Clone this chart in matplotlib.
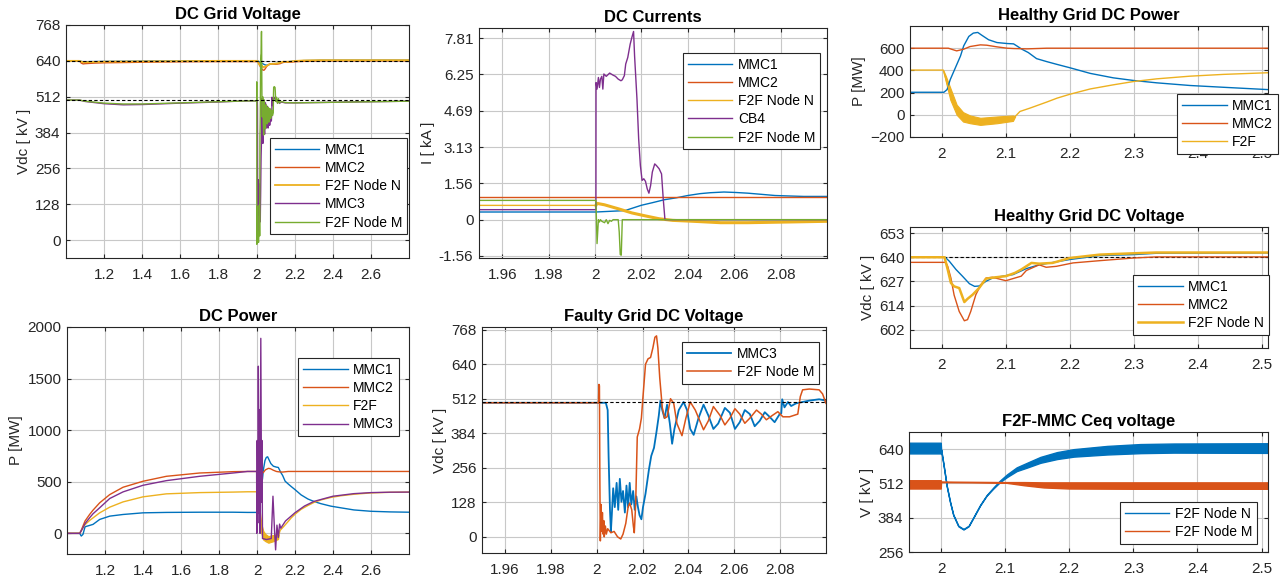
import matplotlib
matplotlib.use("Agg")
import matplotlib.pyplot as plt
import numpy as np
from matplotlib.ticker import FuncFormatter


plt.rcParams["font.family"] = ["Liberation Sans", "DejaVu Sans"]

LARGEUR, HAUTEUR = 1288, 586

BLEU = "#0072BD"
ORANGE = "#D95319"
JAUNE = "#EDB120"
VIOLET = "#7E2F8E"
VERT = "#77AC30"

# ---------------------------------------------------------------- puissances (MW)
# demarrage 1.0 -> 1.95 s
t_p_dem = [1.0, 1.067, 1.075, 1.084, 1.095, 1.119, 1.137, 1.172, 1.225, 1.295, 1.4, 1.523, 1.698, 1.874, 1.95]
p_mmc1_dem = [0, 0, -26, -10, 64, 77, 87, 135, 167, 183, 199, 203, 205, 205, 203]
p_mmc2_dem = [0, 0, 30, 71, 120, 183, 225, 296, 376, 447, 505, 553, 585, 598, 600]
p_mmc3_dem = [0, 0, 25, 55, 95, 151, 190, 248, 338, 402, 466, 511, 553, 585, 600]
p_f2f_dem = [0, 0, 25, 55, 85, 125, 150, 199, 254, 305, 354, 383, 395, 400, 403]

# defaut 1.95 -> 2.51 s
t_p_mmc1 = [1.95, 2.003, 2.008, 2.013, 2.021, 2.029, 2.034, 2.042, 2.049, 2.056, 2.062, 2.073, 2.086,
            2.102, 2.112, 2.117, 2.125, 2.135, 2.148, 2.164, 2.18, 2.2, 2.232, 2.268, 2.3, 2.336, 2.388,
            2.44, 2.51]
p_mmc1 = [203, 203, 227, 318, 424, 530, 621, 706, 736, 742, 718, 676, 651, 642, 639, 621, 591, 561,
          506, 479, 454, 424, 373, 333, 309, 288, 264, 248, 227]
t_p_mmc2 = [1.95, 2.01, 2.018, 2.023, 2.034, 2.044, 2.06, 2.07, 2.086, 2.102, 2.112, 2.133, 2.164, 2.51]
p_mmc2 = [600, 600, 585, 576, 591, 615, 630, 627, 612, 600, 597, 594, 600, 600]
t_p_f2f = [1.95, 2.002, 2.006, 2.013, 2.023, 2.033, 2.044, 2.06, 2.086, 2.111, 2.1145, 2.122, 2.138,
           2.164, 2.18, 2.2, 2.232, 2.268, 2.3, 2.336, 2.388, 2.44, 2.51]
p_f2f = [403, 403, 325, 190, 45, -18, -41, -59, -45, -30, -15, 30, 61, 115, 150, 185, 233, 270, 300,
         324, 348, 364, 379]
# bande d'ondulation F2F
t_bande_f2f = [2.002, 2.006, 2.013, 2.023, 2.033, 2.044, 2.06, 2.086, 2.111, 2.1145]
bande_f2f_haut = [403, 350, 243, 91, 24, -6, -27, -15, -6, -15]
bande_f2f_bas = [403, 300, 136, 0, -61, -76, -91, -76, -55, -15]
t_p_mmc3 = [1.95, 1.998, 1.999, 2.001, 2.004, 2.007, 2.010, 2.013, 2.016, 2.020, 2.024, 2.026, 2.029,
            2.05, 2.075, 2.084, 2.092, 2.098, 2.105, 2.112, 2.119, 2.125, 2.15, 2.2, 2.25, 2.3, 2.4, 2.51]
p_mmc3 = [600, 600, 0, 900, 100, 1620, 200, 1200, 0, 1890, 300, 900, -50, -60, -50, 360, 40, -160,
          80, -40, 90, 50, 120, 200, 265, 310, 360, 385]

# fin 2.51 -> 2.8 s
t_p_fin = [2.6, 2.7, 2.8]
p_mmc1_fin = [214, 208, 205]
p_mmc2_fin = [600, 600, 600]
p_mmc3_fin = [395, 399, 400]
p_f2f_fin = [392, 398, 400]

# ------------------------------------------------------ tensions reseau sain (kV)
t_v_dem = [1.0, 1.07, 1.08, 1.09, 1.1, 1.15, 1.2, 1.3, 1.4, 1.5, 1.6, 1.7, 1.8, 1.9]
v_mmc1_dem = [640, 640, 638, 637, 637, 637.5, 638, 638.5, 639, 639.5, 640, 640, 640, 640]
v_mmc2_dem = [640, 640, 632, 629, 630, 632, 633, 634, 635, 636, 636.5, 637, 637.3, 637.3]
v_f2fn_dem = [640, 640, 637, 635, 635, 636, 637, 637.5, 638, 638.5, 639, 639.5, 640, 640]

t_v_mmc1 = [1.95, 2.005, 2.0115, 2.022, 2.032, 2.043, 2.051, 2.058, 2.069, 2.079, 2.1, 2.111, 2.132,
            2.152, 2.2, 2.247, 2.3, 2.335, 2.51]
v_mmc1 = [640, 640, 637.9, 633.5, 630, 626, 624.6, 624.8, 627.3, 629, 630.3, 630.8, 634, 636, 638.8,
          640.9, 641.4, 642.1, 642.3]
t_v_mmc2 = [1.95, 2.006, 2.009, 2.014, 2.019, 2.027, 2.035, 2.04, 2.045, 2.053, 2.061, 2.069, 2.079,
            2.1, 2.111, 2.124, 2.132, 2.152, 2.163, 2.179, 2.205, 2.247, 2.3, 2.335, 2.51]
v_mmc2 = [637.3, 637.3, 635.2, 629, 620, 611.3, 606.4, 607, 611.3, 620.2, 625.5, 629, 629.4, 627.6,
          628.7, 630, 633, 636, 634.7, 635.2, 637, 638.2, 639.6, 640.2, 640.2]
t_v_f2fn = [1.95, 2.004, 2.009, 2.014, 2.019, 2.027, 2.035, 2.04, 2.048, 2.058, 2.069, 2.084, 2.1,
            2.114, 2.124, 2.14, 2.152, 2.173, 2.2, 2.247, 2.3, 2.335, 2.51]
v_f2fn = [640, 640, 633.5, 626.4, 624.6, 623.7, 616.3, 618, 620.2, 623.7, 628.7, 629.4, 630, 631.7,
          633.5, 637, 636.6, 637, 639.6, 641.4, 642.1, 642.5, 642.5]

t_v_fin = [2.6, 2.8]
v_mmc1_fin = [642.3, 642.3]
v_mmc2_fin = [640.2, 640.2]
v_f2fn_fin = [642.5, 642.5]

# ---------------------------------------------------- tensions reseau en defaut (kV)
t_f_dem = [1.0, 1.07, 1.1, 1.2, 1.3, 1.4, 1.6, 1.8, 1.9]
f_mmc3_dem = [500, 500, 495, 487, 483, 484, 489, 493, 496]
f_f2fm_dem = [500, 500, 496, 489, 486, 486, 490, 494, 496]

t_f_mmc3 = [1.95, 2.004, 2.0048, 2.0052, 2.0058, 2.0062, 2.0066, 2.0072, 2.0079, 2.0087, 2.0094,
            2.0101, 2.0108, 2.0115, 2.0123, 2.013, 2.0137, 2.0144, 2.0151, 2.0159, 2.0166, 2.0173,
            2.018, 2.0187, 2.0195, 2.0202, 2.0213, 2.0228, 2.0238, 2.025, 2.0261, 2.0271, 2.0278,
            2.0286, 2.0296, 2.0307, 2.0319, 2.0329, 2.0339, 2.0358, 2.0379, 2.0394, 2.0408, 2.0423,
            2.0444, 2.0466, 2.0487, 2.0509, 2.053, 2.0559, 2.0581, 2.0603, 2.0624, 2.0646, 2.0668,
            2.0689, 2.0711, 2.0733, 2.0754, 2.0776, 2.0798, 2.0805, 2.0809, 2.0819, 2.0834, 2.0848,
            2.087, 2.0898, 2.0927, 2.097, 2.1]
f_mmc3 = [497, 497, 470, 300, 100, 20, 80, 180, 110, 200, 100, 215, 130, 170, 90, 190, 110, 200, 120,
          170, 100, 150, 110, 80, 65, 110, 160, 250, 300, 330, 390, 450, 505, 470, 440, 490, 420, 345,
          400, 470, 500, 470, 400, 378, 440, 490, 450, 400, 420, 478, 460, 400, 425, 470, 455, 410,
          430, 462, 445, 425, 455, 458, 510, 480, 500, 485, 495, 500, 505, 510, 505]
t_f_f2fm = [1.95, 2.0008, 2.001, 2.0012, 2.0014, 2.0016, 2.0019, 2.0022, 2.0025, 2.0028, 2.0031,
            2.0033, 2.0038, 2.0042, 2.0048, 2.0062, 2.0076, 2.0091, 2.0105, 2.0115, 2.0127, 2.0137,
            2.0144, 2.0153, 2.016, 2.0164, 2.017, 2.0177, 2.0187, 2.0195, 2.0202, 2.0213, 2.0224,
            2.0235, 2.0245, 2.0254, 2.0261, 2.0267, 2.0275, 2.0286, 2.0296, 2.0307, 2.0322, 2.0336,
            2.035, 2.0372, 2.0389, 2.0408, 2.043, 2.0466, 2.0487, 2.0509, 2.0538, 2.0559, 2.0581,
            2.0603, 2.0624, 2.0646, 2.0668, 2.0697, 2.0718, 2.074, 2.0766, 2.079, 2.0812, 2.0841,
            2.0877, 2.0888, 2.0898, 2.0927, 2.097, 2.0985, 2.1]
f_f2fm = [497, 497, 565, 560, 200, -15, 120, 20, 90, 10, 60, 0, 40, 10, 30, 15, 20, 0, -8, 10, 50,
          110, 125, 100, 40, 15, 120, 370, 400, 440, 520, 640, 660, 665, 700, 740, 745, 700, 590, 480,
          440, 445, 512, 495, 420, 375, 440, 500, 470, 397, 430, 483, 450, 415, 440, 475, 455, 421,
          440, 470, 455, 434, 450, 464, 445, 445, 455, 520, 545, 548, 545, 530, 495]

t_f_fin = [2.105, 2.11, 2.115, 2.12, 2.13, 2.15, 2.2, 2.4, 2.6, 2.8]
f_mmc3_fin = [498, 490, 500, 488, 493, 490, 490, 492, 494, 496]
f_f2fm_fin = [510, 488, 505, 490, 495, 491, 490, 492, 494, 496]

# ------------------------------------------------------------- courants (kA)
t_i_mmc1 = [1.95, 2.0004, 2.0129, 2.02, 2.0247, 2.03, 2.035, 2.04, 2.0453, 2.0497, 2.0556, 2.0607,
            2.0659, 2.0718, 2.0776, 2.0835, 2.09, 2.1]
i_mmc1 = [0.33, 0.33, 0.39, 0.62, 0.73, 0.86, 0.94, 1.04, 1.12, 1.16, 1.19, 1.17, 1.14, 1.09, 1.04,
          1.02, 1.0, 1.0]
t_i_mmc2 = [1.95, 2.1]
i_mmc2 = [0.96, 0.96]
t_i_f2fn = [1.95, 2.0004, 2.0009, 2.0041, 2.01, 2.0159, 2.0218, 2.0276, 2.0335, 2.0424, 2.0541,
            2.0659, 2.0835, 2.1]
i_f2fn = [0.615, 0.615, 0.70, 0.64, 0.47, 0.29, 0.16, 0.04, -0.03, -0.07, -0.13, -0.13, -0.10, -0.07]
t_i_cb4 = [1.95, 2.0004, 2.00044, 2.00088, 2.00147, 2.00191, 2.00235, 2.00294, 2.00338, 2.00382,
           2.00485, 2.00632, 2.00779, 2.00882, 2.01, 2.01118, 2.01176, 2.01265, 2.01324, 2.01412,
           2.01515, 2.01588, 2.01662, 2.01706, 2.01809, 2.01882, 2.01956, 2.02029, 2.02103, 2.02176,
           2.0225, 2.02324, 2.02397, 2.02471, 2.02574, 2.02647, 2.02765, 2.02868, 2.02941, 2.03015, 2.1]
i_cb4 = [0.43, 0.43, 5.9, 5.62, 6.12, 5.69, 6.05, 6.17, 5.62, 6.27, 6.17, 6.31, 6.22, 6.17, 6.05,
         5.98, 6.02, 6.2, 6.7, 6.98, 7.55, 7.84, 8.1, 7.05, 5.19, 3.48, 2.33, 1.69, 1.76, 1.65, 1.33,
         1.14, 1.47, 2.05, 2.4, 2.33, 2.19, 1.97, 0.9, 0.0, 0.0]
t_i_f2fm = [1.95, 2.0004, 2.00088, 2.00147, 2.00191, 2.00235, 2.00294, 2.00412, 2.00485, 2.00559,
            2.00632, 2.00706, 2.00779, 2.01, 2.01044, 2.01088, 2.01132, 2.01176, 2.1]
i_f2fm = [0.83, 0.83, -1.03, 0.0, -0.1, 0.0, -0.07, -0.13, 0.0, -0.17, -0.03, -0.07, 0.0, 0.0, -0.53,
          -1.5, -1.53, 0.0, 0.0]

# ------------------------------------------------- tension Ceq F2F (kV, enveloppes)
t_ceq_n = [1.95, 1.9995, 2.0, 2.0036, 2.0089, 2.014, 2.019, 2.027, 2.035, 2.043, 2.05, 2.061, 2.071,
           2.082, 2.092, 2.103, 2.118, 2.134, 2.155, 2.181, 2.207, 2.259, 2.311, 2.363, 2.51]
ceq_n_haut = [664, 664, 642, 587, 503, 444, 396, 354, 342, 354, 384, 432, 468, 498, 523, 546, 572,
              589, 611, 629, 640, 652, 659, 661, 662]
ceq_n_bas = [624, 624, 638, 585, 501, 442, 394, 352, 340, 352, 382, 430, 466, 494, 517, 536, 558,
             571, 589, 603, 612, 620, 625, 627, 626]
t_ceq_m = [1.95, 1.9995, 2.0, 2.05, 2.1, 2.13, 2.16, 2.2, 2.3, 2.51]
ceq_m_haut = [524, 524, 519, 518, 517, 517, 516, 516, 516, 516]
ceq_m_bas = [493, 493, 517, 516, 515, 505, 497, 493, 492, 492]

# ------------------------------------------------------------- graduations
TICKS_X_LONG = [1.2, 1.4, 1.6, 1.8, 2.0, 2.2, 2.4, 2.6]
TICKS_X_COURT = [1.96, 1.98, 2.0, 2.02, 2.04, 2.06, 2.08]
TICKS_X_MOYEN = [2.0, 2.1, 2.2, 2.3, 2.4, 2.5]
TICKS_KV = [0, 128, 256, 384, 512, 640, 768]
TICKS_KA = [-1.5625, 0, 1.5625, 3.125, 4.6875, 6.25, 7.8125]
LABELS_KA = ["-1.56", "0", "1.56", "3.13", "4.69", "6.25", "7.81"]
TICKS_SAIN = [601.6, 614.4, 627.2, 640, 652.8]


def serie(*morceaux):
    return np.concatenate([np.asarray(m, dtype=float) for m in morceaux])


def axe(fig, gauche, haut, droite, bas, titre, ylabel, xlim, ylim):
    ax = fig.add_axes([gauche / LARGEUR, 1 - bas / HAUTEUR,
                       (droite - gauche) / LARGEUR, (bas - haut) / HAUTEUR])
    ax.set_xlim(*xlim)
    ax.set_ylim(*ylim)
    ax.grid(True, color="#c8c8c8", lw=0.8)
    ax.set_axisbelow(True)
    for s in ax.spines.values():
        s.set_color("#262626")
        s.set_linewidth(0.8)
    ax.tick_params(direction="in", top=True, right=True, length=3, labelsize=11,
                   colors="#262626", pad=4)
    ax.tick_params(axis="x", pad=7.5)
    ax.set_title(titre, fontsize=12, fontweight="bold", pad=4, color="#000000")
    ax.set_ylabel(ylabel, fontsize=11, color="#262626", labelpad=3)
    ax.xaxis.set_major_formatter(FuncFormatter(lambda v, p: f"{round(v, 3):g}"))
    return ax


def legende(ax, droite, haut):
    leg = ax.legend(loc="upper right", bbox_to_anchor=(droite / LARGEUR, 1 - haut / HAUTEUR),
                    bbox_transform=ax.figure.transFigure, borderaxespad=0, fontsize=10,
                    frameon=True, fancybox=False, framealpha=1, edgecolor="#262626",
                    handlelength=3.2, handletextpad=0.4, labelspacing=0.3, borderpad=0.35)
    leg.get_frame().set_linewidth(0.8)
    leg.set_zorder(10)


def main():
    fig = plt.figure(figsize=(LARGEUR / 100, HAUTEUR / 100), dpi=100)

    # --- DC Grid Voltage
    ax = axe(fig, 66, 25, 409, 258, "DC Grid Voltage", "Vdc [ kV ]", (1.0, 2.8), (-64, 768))
    ax.plot(serie(t_v_dem, t_v_mmc1, t_v_fin), serie(v_mmc1_dem, v_mmc1, v_mmc1_fin), color=BLEU, lw=1, label="MMC1")
    ax.plot(serie(t_v_dem, t_v_mmc2, t_v_fin), serie(v_mmc2_dem, v_mmc2, v_mmc2_fin), color=ORANGE, lw=1, label="MMC2")
    ax.plot(serie(t_v_dem, t_v_f2fn, t_v_fin), serie(v_f2fn_dem, v_f2fn, v_f2fn_fin), color=JAUNE, lw=1.3, label="F2F Node N")
    ax.plot(serie(t_f_dem, t_f_mmc3, t_f_fin), serie(f_mmc3_dem, f_mmc3, f_mmc3_fin), color=VIOLET, lw=1, label="MMC3")
    ax.plot(serie(t_f_dem, t_f_f2fm, t_f_fin), serie(f_f2fm_dem, f_f2fm, f_f2fm_fin), color=VERT, lw=1, label="F2F Node M")
    ax.axhline(640, color="black", ls="--", lw=0.8, dashes=(3, 2), zorder=4)
    ax.axhline(500, color="black", ls="--", lw=0.8, dashes=(3, 2), zorder=4)
    ax.set_xticks(TICKS_X_LONG)
    ax.set_yticks(TICKS_KV)
    legende(ax, 407, 138)

    # --- DC Currents
    ax = axe(fig, 479, 28, 827, 258, "DC Currents", "I [ kA ]", (1.95, 2.1), (-1.65, 8.25))
    ax.plot(t_i_mmc1, i_mmc1, color=BLEU, lw=1, label="MMC1")
    ax.plot(t_i_mmc2, i_mmc2, color=ORANGE, lw=1, label="MMC2")
    ax.plot(t_i_f2fn, i_f2fn, color=JAUNE, lw=1, label="F2F Node N")
    t_n = np.asarray(t_i_f2fn)
    ax.plot(t_n[t_n >= 2.0004], np.asarray(i_f2fn)[t_n >= 2.0004], color=JAUNE, lw=2.2)
    ax.plot(t_i_cb4, i_cb4, color=VIOLET, lw=1, label="CB4")
    ax.plot(t_i_f2fm, i_f2fm, color=VERT, lw=1, label="F2F Node M")
    ax.set_xticks(TICKS_X_COURT)
    ax.set_yticks(TICKS_KA)
    ax.set_yticklabels(LABELS_KA)
    legende(ax, 820, 53)

    # --- Healthy Grid DC Power
    ax = axe(fig, 910, 26, 1268, 137, "Healthy Grid DC Power", "P [MW]", (1.95, 2.51), (-200, 800))
    ax.plot(t_p_mmc1, p_mmc1, color=BLEU, lw=1, label="MMC1")
    ax.plot(t_p_mmc2, p_mmc2, color=ORANGE, lw=1, label="MMC2")
    ax.plot(t_p_f2f, p_f2f, color=JAUNE, lw=1, label="F2F")
    ax.fill_between(t_bande_f2f, bande_f2f_bas, bande_f2f_haut, color=JAUNE, lw=0.8, edgecolor=JAUNE)
    ax.set_xticks(TICKS_X_MOYEN)
    ax.set_yticks([-200, 0, 200, 400, 600])
    legende(ax, 1278, 94)

    # --- DC Power
    ax = axe(fig, 67, 327, 409, 554, "DC Power", "P [MW]", (1.0, 2.8), (-200, 2000))
    ax.plot(serie(t_p_dem, t_p_mmc1, t_p_fin), serie(p_mmc1_dem, p_mmc1, p_mmc1_fin), color=BLEU, lw=1, label="MMC1")
    ax.plot(serie(t_p_dem, t_p_mmc2, t_p_fin), serie(p_mmc2_dem, p_mmc2, p_mmc2_fin), color=ORANGE, lw=1, label="MMC2")
    ax.plot(serie(t_p_dem, t_p_f2f, t_p_fin), serie(p_f2f_dem, p_f2f, p_f2f_fin), color=JAUNE, lw=1, label="F2F")
    ax.fill_between(t_bande_f2f, bande_f2f_bas, bande_f2f_haut, color=JAUNE, lw=0.8, edgecolor=JAUNE)
    ax.plot(serie(t_p_dem, t_p_mmc3, t_p_fin), serie(p_mmc3_dem, p_mmc3, p_mmc3_fin), color=VIOLET, lw=1, label="MMC3")
    ax.set_xticks(TICKS_X_LONG)
    ax.set_yticks([0, 500, 1000, 1500, 2000])
    legende(ax, 399, 358)

    # --- Faulty Grid DC Voltage
    ax = axe(fig, 482, 327, 826, 553, "Faulty Grid DC Voltage", "Vdc [ kV ]", (1.95, 2.1), (-60, 778))
    ax.plot(t_f_mmc3, f_mmc3, color=BLEU, lw=1.3, label="MMC3")
    ax.plot(t_f_f2fm, f_f2fm, color=ORANGE, lw=1.1, label="F2F Node M")
    ax.axhline(500, color="black", ls="--", lw=0.8, dashes=(3, 2), zorder=4)
    ax.set_xticks(TICKS_X_COURT)
    ax.set_yticks(TICKS_KV)
    legende(ax, 819, 342)

    # --- Healthy Grid DC Voltage
    ax = axe(fig, 910, 227, 1268, 348, "Healthy Grid DC Voltage", "Vdc [ kV ]", (1.95, 2.51), (592, 656))
    ax.plot(t_v_mmc1, v_mmc1, color=BLEU, lw=1, label="MMC1")
    ax.plot(t_v_mmc2, v_mmc2, color=ORANGE, lw=1, label="MMC2")
    ax.plot(t_v_f2fn, v_f2fn, color=JAUNE, lw=1.8, label="F2F Node N")
    ax.axhline(640, color="black", ls="--", lw=0.8, dashes=(3, 2), zorder=1.5)
    ax.set_xticks(TICKS_X_MOYEN)
    ax.set_yticks(TICKS_SAIN)
    ax.yaxis.set_major_formatter(FuncFormatter(lambda v, p: f"{v:.0f}"))
    legende(ax, 1269, 275)

    # --- F2F-MMC Ceq voltage
    ax = axe(fig, 909, 432, 1268, 552, "F2F-MMC Ceq voltage", "V [ kV ]", (1.95, 2.51), (256, 704))
    ax.fill_between(t_ceq_n, ceq_n_bas, ceq_n_haut, color=BLEU, lw=1, edgecolor=BLEU)
    ax.fill_between(t_ceq_m, ceq_m_bas, ceq_m_haut, color=ORANGE, lw=1, edgecolor=ORANGE)
    ax.plot([], [], color=BLEU, lw=1, label="F2F Node N")
    ax.plot([], [], color=ORANGE, lw=1, label="F2F Node M")
    ax.set_xticks(TICKS_X_MOYEN)
    ax.set_yticks([256, 384, 512, 640])
    legende(ax, 1257, 502)

    fig.savefig("out.png", dpi=100, facecolor="white")
    plt.close(fig)


if __name__ == "__main__":
    main()
